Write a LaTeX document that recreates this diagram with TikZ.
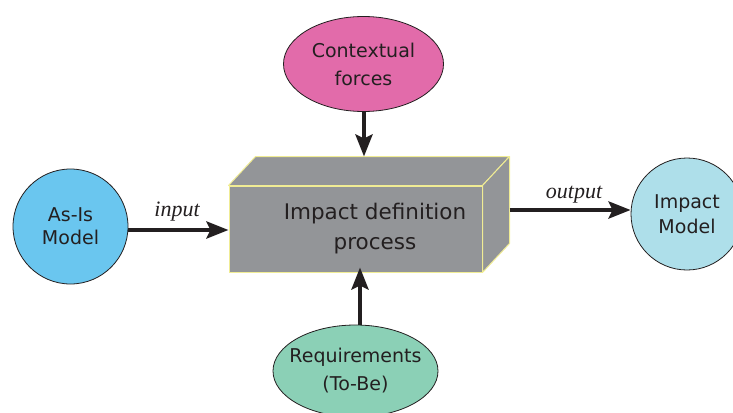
\documentclass[tikz,border=0pt]{standalone}
\usepackage{fontspec}
\setmainfont{DejaVu Sans}
\newfontfamily\lblfont{Liberation Serif}
\usetikzlibrary{arrows.meta,shapes.geometric}
\definecolor{inkc}{HTML}{231F20}
\definecolor{pinkc}{HTML}{E26BAA}
\definecolor{bluec}{HTML}{6AC6EF}
\definecolor{cyanc}{HTML}{AEDFEA}
\definecolor{greenc}{HTML}{8BD0B6}
\definecolor{grayc}{HTML}{939598}
\definecolor{yelc}{HTML}{F0EC94}
\tikzset{
  txt/.style={text=inkc, font=\fontsize{19}{26}\selectfont, align=center, inner sep=0pt},
  blob/.style={draw=inkc, line width=0.8pt, txt},
  face/.style={fill=grayc, draw=yelc, line width=1pt},
  flow/.style={draw=inkc, line width=4pt, -{Stealth[length=22pt,width=17pt,inset=4pt]}},
  lbl/.style={text=inkc, font=\lblfont\itshape\fontsize{22}{24}\selectfont, inner sep=0pt}
}
\begin{document}
\begin{tikzpicture}[x=1pt,y=-1pt]
\useasboundingbox (0,0) rectangle (733,412);
\clip (0,0) rectangle (733,412);
% process box
\node[face, rectangle, minimum width=253pt, minimum height=86pt, inner sep=0pt] (proc) at (355.5,229) {};
\path (proc.north west) ++(27,-29) coordinate (tbl);
\path (proc.north east) ++(27,-29) coordinate (tbr);
\path (proc.south east) ++(27,-29) coordinate (bbr);
\filldraw[face, line join=round] (proc.north west) -- (tbl) -- (tbr) -- (proc.north east) -- cycle;
\filldraw[face, line join=round] (proc.north east) -- (tbr) -- (bbr) -- (proc.south east) -- cycle;
\node[txt, font=\fontsize{21.5}{30}\selectfont] (proctext) at (375,229) {Impact definition\\process};
% satellites
\node[blob, circle, fill=bluec, minimum size=115pt, font=\fontsize{19}{23}\selectfont] (asis) at (70.5,226.5) {As-Is\\Model};
\node[blob, circle, fill=cyanc, minimum size=112pt, font=\fontsize{19}{25}\selectfont] (impm) at (687,214) {Impact\\Model};
\node[blob, ellipse, fill=pinkc, minimum width=160pt, minimum height=95pt, inner xsep=-10pt, font=\fontsize{19}{28}\selectfont] (ctx) at (363.5,64) {Contextual\\forces};
\node[blob, ellipse, fill=greenc, minimum width=165pt, minimum height=92pt, inner xsep=-12pt, font=\fontsize{19}{28}\selectfont] (req) at (355.5,371) {Requirements\\(To-Be)};
% connectors
\draw[flow] (asis.east |- 0,230) coordinate (a1) -- (proc.west |- a1);
\draw[flow] (bbr |- 0,210) coordinate (o1) -- (impm.west |- o1);
\draw[flow] (ctx.south -| 364,0) coordinate (c1) -- (c1 |- tbl);
\draw[flow] (req.north -| 360,0) coordinate (r1) -- ([yshift=5pt]r1 |- proc.south);
% labels
\node[lbl] (lin) at (177,212) {input};
\node[lbl] (lout) at (574,195) {output};
\end{tikzpicture}
\end{document}
